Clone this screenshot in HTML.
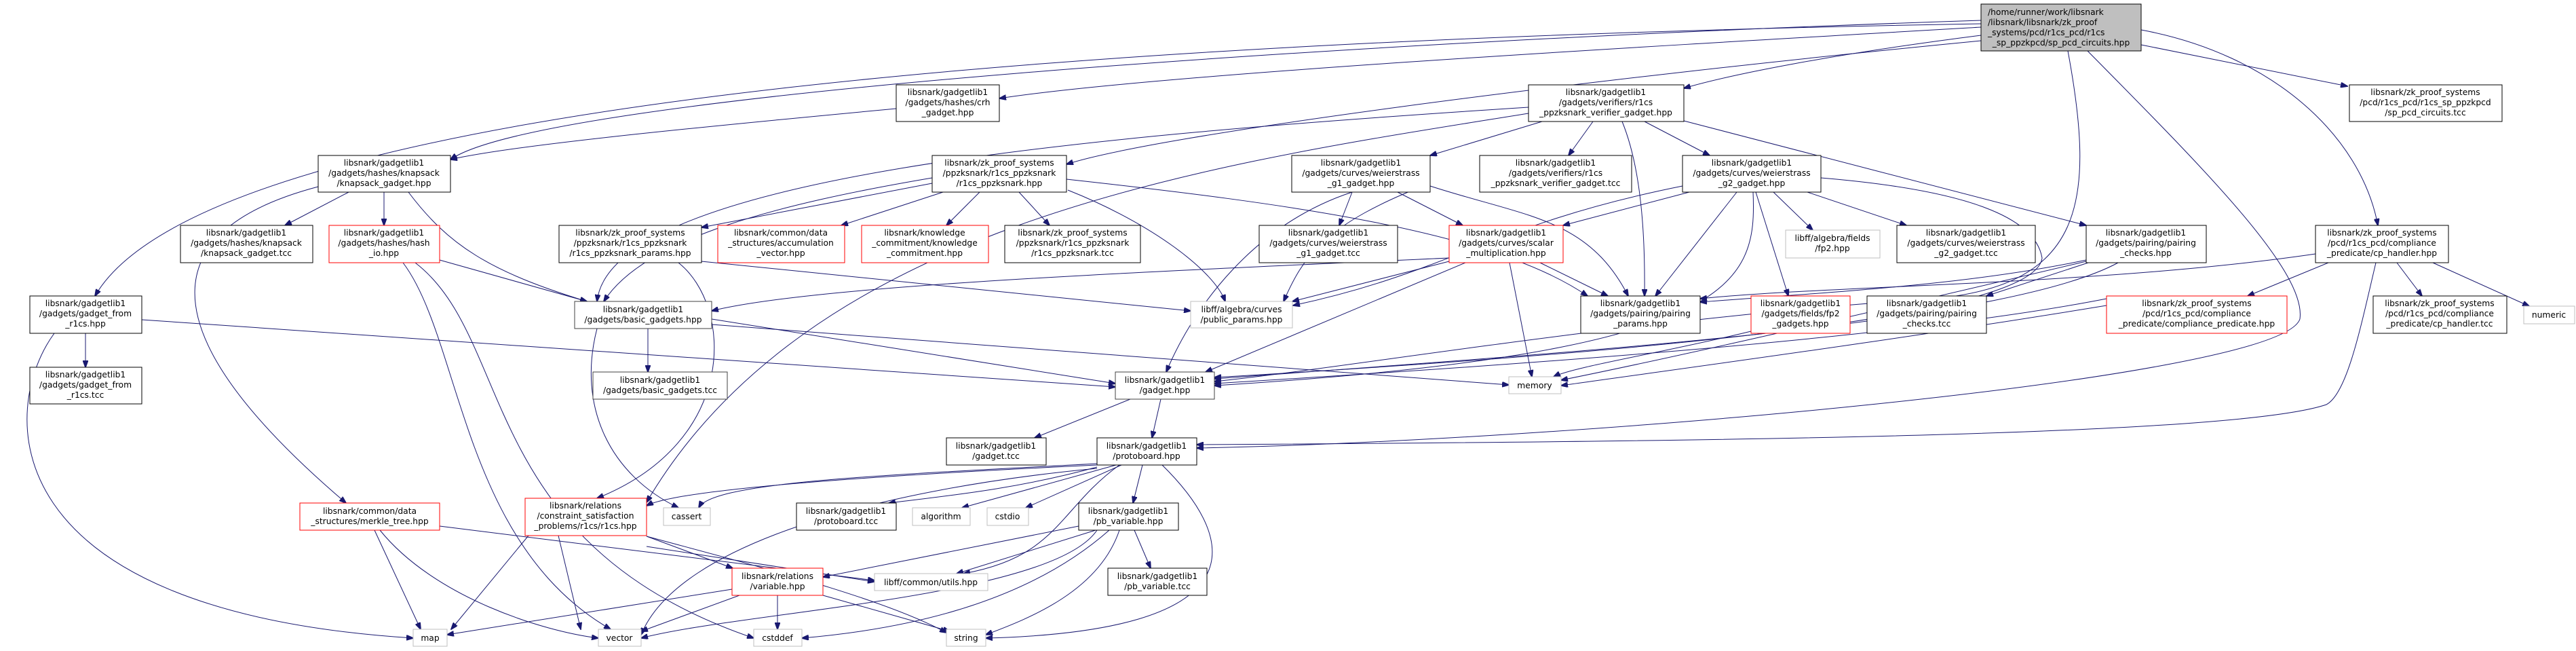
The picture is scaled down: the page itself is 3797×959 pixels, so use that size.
<!DOCTYPE html>
<html><head><meta charset="utf-8"><style>
html,body{margin:0;padding:0;background:#fff}
svg{display:block}
text{font-family:"DejaVu Sans","Liberation Sans",sans-serif;font-size:12.3px;fill:#000}
.n{fill:#fff;stroke:#000;stroke-width:1}
.r{fill:#fff;stroke:#ff0000;stroke-width:1}
.g{fill:#fff;stroke:#bfbfbf;stroke-width:1}
.d{fill:#fff;stroke:#404040;stroke-width:1}
path.e{fill:none;stroke:#191970;stroke-width:1}
</style></head><body>
<svg width="3797" height="959" viewBox="0 0 3797 959" xmlns="http://www.w3.org/2000/svg">
<defs><marker id="a" markerWidth="11" markerHeight="8" refX="10" refY="4" orient="auto" markerUnits="userSpaceOnUse"><path d="M0,0 L11,4 L0,8 z" fill="#191970" stroke="#191970"/></marker></defs>
<g marker-end="url(#a)">
<path class="e" d="M2920,40 C2400,70 1700,110 1473,145"/>
<path class="e" d="M2920,52 C2700,80 2550,110 2482,130"/>
<path class="e" d="M3156,66 L3460,127"/>
<path class="e" d="M3156,44 C3350,80 3480,200 3505,332"/>
<path class="e" d="M2920,30 C2000,60 800,140 664,235"/>
<path class="e" d="M2920,35 C1500,60 300,160 140,436"/>
<path class="e" d="M2920,60 C2300,120 1700,200 1572,242"/>
<path class="e" d="M3048,75 C3090,300 3070,420 2850,440 C2400,470 2000,540 1790,562"/>
<path class="e" d="M3077,75 C3250,250 3400,400 3390,470 C3360,560 2300,650 1764,660"/>
<path class="e" d="M1321,160 C1000,190 750,215 664,235"/>
<path class="e" d="M2273,179 L2108,229"/>
<path class="e" d="M2348,179 L2312,229"/>
<path class="e" d="M2391,179 C2420,250 2425,350 2424,436"/>
<path class="e" d="M2424,179 L2520,229"/>
<path class="e" d="M2482,178 L3075,332"/>
<path class="e" d="M2253,158 C1600,200 900,260 880,444"/>
<path class="e" d="M2253,167 C1800,240 1200,320 953,740"/>
<path class="e" d="M514,283 L420,332"/>
<path class="e" d="M566,283 L566,332"/>
<path class="e" d="M602,283 C660,360 720,400 865,444"/>
<path class="e" d="M469,275 C260,330 180,460 510,741"/>
<path class="e" d="M648,383 L865,444"/>
<path class="e" d="M594,387 C680,500 680,800 900,927"/>
<path class="e" d="M612,387 C760,500 700,800 1111,940"/>
<path class="e" d="M209,471 L1644,570"/>
<path class="e" d="M126,491 L126,541"/>
<path class="e" d="M80,491 C0,600 -20,900 609,940"/>
<path class="e" d="M1374,270 L1034,335"/>
<path class="e" d="M1390,283 L1240,332"/>
<path class="e" d="M1444,283 L1395,332"/>
<path class="e" d="M1502,283 L1547,332"/>
<path class="e" d="M1574,280 C1700,330 1790,400 1806,444"/>
<path class="e" d="M1374,262 C1150,300 950,350 890,444"/>
<path class="e" d="M1572,264 C1900,300 2200,340 2340,436"/>
<path class="e" d="M1000,387 C1080,450 1090,650 880,734"/>
<path class="e" d="M1034,385 L1755,458"/>
<path class="e" d="M1993,283 L1974,332"/>
<path class="e" d="M2060,283 L2156,332"/>
<path class="e" d="M2108,274 C2250,320 2340,320 2400,436"/>
<path class="e" d="M1993,283 C1850,330 1760,450 1719,548"/>
<path class="e" d="M2108,270 C1950,330 1920,380 1892,444"/>
<path class="e" d="M2270,387 L2370,436"/>
<path class="e" d="M2225,387 L2258,555"/>
<path class="e" d="M2136,380 C1700,400 1200,420 1049,458"/>
<path class="e" d="M2136,385 L1905,444"/>
<path class="e" d="M2160,387 L1777,548"/>
<path class="e" d="M2490,283 L2304,332"/>
<path class="e" d="M2560,283 L2440,436"/>
<path class="e" d="M2614,283 L2672,339"/>
<path class="e" d="M2664,283 L2810,332"/>
<path class="e" d="M2588,283 L2636,436"/>
<path class="e" d="M2584,283 C2590,420 2560,520 1790,568"/>
<path class="e" d="M2480,274 C2200,330 2140,400 1906,450"/>
<path class="e" d="M2684,262 C2900,280 3000,320 3010,380 C3000,470 2400,520 1790,556"/>
<path class="e" d="M3075,383 C2900,420 2700,430 2506,445"/>
<path class="e" d="M3078,387 L2928,436"/>
<path class="e" d="M3122,387 C2950,480 2300,520 1790,558"/>
<path class="e" d="M3075,385 C2800,450 2500,520 2301,560"/>
<path class="e" d="M2581,488 C2450,520 2320,540 2290,555"/>
<path class="e" d="M3432,387 L3313,436"/>
<path class="e" d="M3533,387 L3570,436"/>
<path class="e" d="M3586,387 L3728,451"/>
<path class="e" d="M3413,374 C3100,420 2700,420 2506,440"/>
<path class="e" d="M3502,387 C3480,480 3460,580 3429,596 C3300,640 2600,650 1764,655"/>
<path class="e" d="M3105,440 C2800,500 2200,540 1790,565"/>
<path class="e" d="M3105,450 C2800,500 2500,540 2301,568"/>
<path class="e" d="M955,484 L955,548"/>
<path class="e" d="M1049,470 L1644,565"/>
<path class="e" d="M1049,478 L2224,567"/>
<path class="e" d="M880,484 C850,600 900,700 1000,748"/>
<path class="e" d="M1666,588 L1525,645"/>
<path class="e" d="M1711,588 L1698,645"/>
<path class="e" d="M1617,683 C1300,700 1050,710 1030,748"/>
<path class="e" d="M1617,685 C1300,700 1000,720 953,745"/>
<path class="e" d="M1617,688 C1500,720 1400,730 1310,741"/>
<path class="e" d="M1645,685 L1418,748"/>
<path class="e" d="M1653,685 L1512,748"/>
<path class="e" d="M1684,685 L1670,741"/>
<path class="e" d="M1650,685 C1560,750 1560,820 1420,845"/>
<path class="e" d="M1617,690 C1300,720 1000,800 945,935"/>
<path class="e" d="M1713,685 C1830,800 1850,930 1453,940"/>
<path class="e" d="M1590,775 L1213,850"/>
<path class="e" d="M1615,781 L1410,845"/>
<path class="e" d="M1672,781 L1696,837"/>
<path class="e" d="M1617,781 C1550,880 1100,900 945,940"/>
<path class="e" d="M1635,781 C1500,900 1300,930 1182,940"/>
<path class="e" d="M1650,781 C1620,870 1520,910 1453,935"/>
<path class="e" d="M1079,868 L659,935"/>
<path class="e" d="M1090,877 L945,930"/>
<path class="e" d="M1146,877 L1146,927"/>
<path class="e" d="M1213,877 L1400,930"/>
<path class="e" d="M779,789 L665,927"/>
<path class="e" d="M823,789 L856,927"/>
<path class="e" d="M953,790 L1080,837"/>
<path class="e" d="M953,805 L1289,857"/>
<path class="e" d="M953,790 C1100,830 1300,880 1395,932"/>
<path class="e" d="M552,781 L620,927"/>
<path class="e" d="M560,781 C640,880 800,930 882,940"/>
<path class="e" d="M648,775 L1289,855"/>
</g>
<g>
<rect x="2920" y="6" width="236" height="69" fill="#bfbfbf" stroke="#000"/>
<text x="2930" y="22">/home/runner/work/libsnark</text><text x="2930" y="37">/libsnark/libsnark/zk_proof</text><text x="2930" y="52">_systems/pcd/r1cs_pcd/r1cs</text><text x="3038" y="67" text-anchor="middle">_sp_ppzkpcd/sp_pcd_circuits.hpp</text>
</g>
<g text-anchor="middle">
<rect class="n" x="1321" y="125" width="152" height="54"/><text x="1397" y="140">libsnark/gadgetlib1</text><text x="1397" y="155">/gadgets/hashes/crh</text><text x="1397" y="170">_gadget.hpp</text>
<rect class="n" x="2253" y="125" width="229" height="54"/><text x="2367" y="140">libsnark/gadgetlib1</text><text x="2367" y="155">/gadgets/verifiers/r1cs</text><text x="2367" y="170">_ppzksnark_verifier_gadget.hpp</text>
<rect class="n" x="3463" y="125" width="225" height="54"/><text x="3575" y="140">libsnark/zk_proof_systems</text><text x="3575" y="155">/pcd/r1cs_pcd/r1cs_sp_ppzkpcd</text><text x="3575" y="170">/sp_pcd_circuits.tcc</text>
<rect class="n" x="469" y="229" width="195" height="54"/><text x="566" y="244">libsnark/gadgetlib1</text><text x="566" y="259">/gadgets/hashes/knapsack</text><text x="566" y="274">/knapsack_gadget.hpp</text>
<rect class="n" x="1374" y="229" width="198" height="54"/><text x="1473" y="244">libsnark/zk_proof_systems</text><text x="1473" y="259">/ppzksnark/r1cs_ppzksnark</text><text x="1473" y="274">/r1cs_ppzksnark.hpp</text>
<rect class="n" x="1904" y="229" width="204" height="54"/><text x="2006" y="244">libsnark/gadgetlib1</text><text x="2006" y="259">/gadgets/curves/weierstrass</text><text x="2006" y="274">_g1_gadget.hpp</text>
<rect class="n" x="2181" y="229" width="224" height="54"/><text x="2293" y="244">libsnark/gadgetlib1</text><text x="2293" y="259">/gadgets/verifiers/r1cs</text><text x="2293" y="274">_ppzksnark_verifier_gadget.tcc</text>
<rect class="n" x="2480" y="229" width="204" height="54"/><text x="2582" y="244">libsnark/gadgetlib1</text><text x="2582" y="259">/gadgets/curves/weierstrass</text><text x="2582" y="274">_g2_gadget.hpp</text>
<rect class="n" x="266" y="332" width="195" height="55"/><text x="363" y="347">libsnark/gadgetlib1</text><text x="363" y="362">/gadgets/hashes/knapsack</text><text x="363" y="377">/knapsack_gadget.tcc</text>
<rect class="r" x="485" y="332" width="163" height="55"/><text x="566" y="347">libsnark/gadgetlib1</text><text x="566" y="362">/gadgets/hashes/hash</text><text x="566" y="377">_io.hpp</text>
<rect class="n" x="824" y="332" width="210" height="55"/><text x="929" y="347">libsnark/zk_proof_systems</text><text x="929" y="362">/ppzksnark/r1cs_ppzksnark</text><text x="929" y="377">/r1cs_ppzksnark_params.hpp</text>
<rect class="r" x="1058" y="332" width="187" height="55"/><text x="1151" y="347">libsnark/common/data</text><text x="1151" y="362">_structures/accumulation</text><text x="1151" y="377">_vector.hpp</text>
<rect class="r" x="1270" y="332" width="187" height="55"/><text x="1363" y="347">libsnark/knowledge</text><text x="1363" y="362">_commitment/knowledge</text><text x="1363" y="377">_commitment.hpp</text>
<rect class="n" x="1481" y="332" width="200" height="55"/><text x="1581" y="347">libsnark/zk_proof_systems</text><text x="1581" y="362">/ppzksnark/r1cs_ppzksnark</text><text x="1581" y="377">/r1cs_ppzksnark.tcc</text>
<rect class="n" x="1856" y="332" width="204" height="55"/><text x="1958" y="347">libsnark/gadgetlib1</text><text x="1958" y="362">/gadgets/curves/weierstrass</text><text x="1958" y="377">_g1_gadget.tcc</text>
<rect class="r" x="2136" y="332" width="168" height="55"/><text x="2220" y="347">libsnark/gadgetlib1</text><text x="2220" y="362">/gadgets/curves/scalar</text><text x="2220" y="377">_multiplication.hpp</text>
<rect class="g" x="2632" y="339" width="139" height="41"/><text x="2701" y="355">libff/algebra/fields</text><text x="2701" y="370">/fp2.hpp</text>
<rect class="n" x="2796" y="332" width="204" height="55"/><text x="2898" y="347">libsnark/gadgetlib1</text><text x="2898" y="362">/gadgets/curves/weierstrass</text><text x="2898" y="377">_g2_gadget.tcc</text>
<rect class="n" x="3075" y="332" width="177" height="55"/><text x="3163" y="347">libsnark/gadgetlib1</text><text x="3163" y="362">/gadgets/pairing/pairing</text><text x="3163" y="377">_checks.hpp</text>
<rect class="n" x="3413" y="332" width="196" height="55"/><text x="3511" y="347">libsnark/zk_proof_systems</text><text x="3511" y="362">/pcd/r1cs_pcd/compliance</text><text x="3511" y="377">_predicate/cp_handler.hpp</text>
<rect class="n" x="44" y="436" width="165" height="55"/><text x="126" y="451">libsnark/gadgetlib1</text><text x="126" y="466">/gadgets/gadget_from</text><text x="126" y="481">_r1cs.hpp</text>
<rect class="d" x="847" y="444" width="202" height="40"/><text x="948" y="460">libsnark/gadgetlib1</text><text x="948" y="475">/gadgets/basic_gadgets.hpp</text>
<rect class="g" x="1755" y="444" width="150" height="39"/><text x="1830" y="460">libff/algebra/curves</text><text x="1830" y="475">/public_params.hpp</text>
<rect class="n" x="2330" y="436" width="176" height="55"/><text x="2418" y="451">libsnark/gadgetlib1</text><text x="2418" y="466">/gadgets/pairing/pairing</text><text x="2418" y="481">_params.hpp</text>
<rect class="r" x="2581" y="436" width="146" height="55"/><text x="2654" y="451">libsnark/gadgetlib1</text><text x="2654" y="466">/gadgets/fields/fp2</text><text x="2654" y="481">_gadgets.hpp</text>
<rect class="n" x="2752" y="436" width="176" height="55"/><text x="2840" y="451">libsnark/gadgetlib1</text><text x="2840" y="466">/gadgets/pairing/pairing</text><text x="2840" y="481">_checks.tcc</text>
<rect class="r" x="3105" y="436" width="266" height="55"/><text x="3238" y="451">libsnark/zk_proof_systems</text><text x="3238" y="466">/pcd/r1cs_pcd/compliance</text><text x="3238" y="481">_predicate/compliance_predicate.hpp</text>
<rect class="n" x="3498" y="436" width="197" height="55"/><text x="3596" y="451">libsnark/zk_proof_systems</text><text x="3596" y="466">/pcd/r1cs_pcd/compliance</text><text x="3596" y="481">_predicate/cp_handler.tcc</text>
<rect class="g" x="3720" y="451" width="75" height="26"/><text x="3757" y="468">numeric</text>
<rect class="n" x="44" y="541" width="165" height="54"/><text x="126" y="556">libsnark/gadgetlib1</text><text x="126" y="571">/gadgets/gadget_from</text><text x="126" y="586">_r1cs.tcc</text>
<rect class="d" x="874" y="548" width="198" height="40"/><text x="973" y="564">libsnark/gadgetlib1</text><text x="973" y="579">/gadgets/basic_gadgets.tcc</text>
<rect class="d" x="1644" y="548" width="146" height="40"/><text x="1717" y="564">libsnark/gadgetlib1</text><text x="1717" y="579">/gadget.hpp</text>
<rect class="g" x="2224" y="555" width="77" height="25"/><text x="2262" y="572">memory</text>
<rect class="n" x="1395" y="645" width="147" height="40"/><text x="1468" y="661">libsnark/gadgetlib1</text><text x="1468" y="676">/gadget.tcc</text>
<rect class="n" x="1617" y="645" width="147" height="40"/><text x="1690" y="661">libsnark/gadgetlib1</text><text x="1690" y="676">/protoboard.hpp</text>
<rect class="r" x="442" y="741" width="206" height="40"/><text x="545" y="757">libsnark/common/data</text><text x="545" y="772">_structures/merkle_tree.hpp</text>
<rect class="r" x="774" y="734" width="179" height="55"/><text x="863" y="749">libsnark/relations</text><text x="863" y="764">/constraint_satisfaction</text><text x="863" y="779">_problems/r1cs/r1cs.hpp</text>
<rect class="g" x="978" y="748" width="69" height="26"/><text x="1012" y="765">cassert</text>
<rect class="n" x="1174" y="741" width="147" height="40"/><text x="1247" y="757">libsnark/gadgetlib1</text><text x="1247" y="772">/protoboard.tcc</text>
<rect class="g" x="1345" y="748" width="85" height="26"/><text x="1387" y="765">algorithm</text>
<rect class="g" x="1455" y="748" width="61" height="26"/><text x="1485" y="765">cstdio</text>
<rect class="n" x="1590" y="741" width="147" height="40"/><text x="1663" y="757">libsnark/gadgetlib1</text><text x="1663" y="772">/pb_variable.hpp</text>
<rect class="r" x="1079" y="837" width="134" height="40"/><text x="1146" y="853">libsnark/relations</text><text x="1146" y="868">/variable.hpp</text>
<rect class="g" x="1289" y="845" width="167" height="25"/><text x="1372" y="862">libff/common/utils.hpp</text>
<rect class="n" x="1633" y="837" width="146" height="40"/><text x="1706" y="853">libsnark/gadgetlib1</text><text x="1706" y="868">/pb_variable.tcc</text>
<rect class="g" x="609" y="927" width="50" height="25"/><text x="634" y="944">map</text>
<rect class="g" x="882" y="927" width="63" height="25"/><text x="913" y="944">vector</text>
<rect class="g" x="1111" y="927" width="71" height="25"/><text x="1146" y="944">cstddef</text>
<rect class="g" x="1395" y="927" width="58" height="25"/><text x="1424" y="944">string</text>
</g>
</svg>
</body></html>
